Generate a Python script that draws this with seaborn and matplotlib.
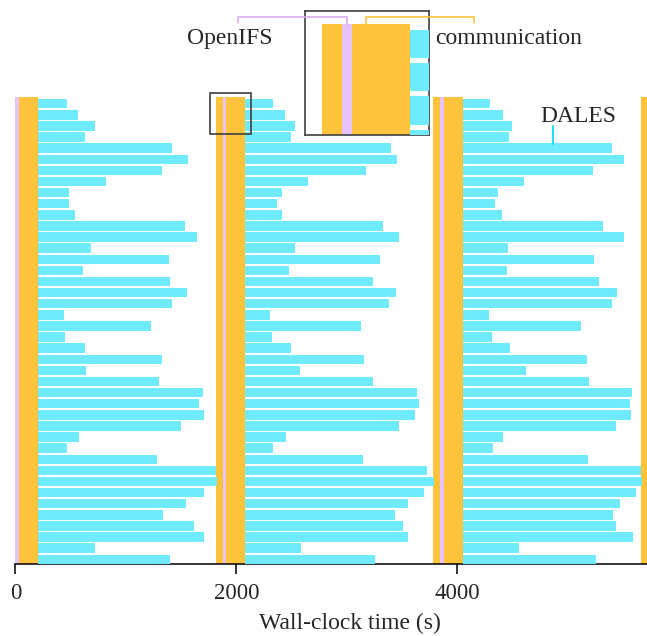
import numpy as np
import pandas as pd
import matplotlib
matplotlib.use("Agg")
import matplotlib.pyplot as plt
import seaborn as sns
from matplotlib.lines import Line2D
from matplotlib.patches import Rectangle

# ---------------- data ----------------
ranks = list(range(42))
dales_start = [208, 2080, 4051]
dales_end_1 = [462, 562, 716, 625, 1414, 1559, 1323, 816, 480, 480, 535, 1531, 1640, 680,
               1386, 607, 1396, 1550, 1414, 435, 1223, 444, 625, 1323, 634, 1296, 1695, 1658,
               1704, 1495, 571, 462, 1278, 1812, 1821, 1704, 1541, 1332, 1613, 1704, 716, 1396]
dales_end_2 = [2329, 2438, 2528, 2492, 3398, 3453, 3172, 2646, 2410, 2365, 2410, 3326, 3471, 2528,
               3299, 2474, 3235, 3444, 3380, 2302, 3126, 2320, 2492, 3154, 2574, 3235, 3634, 3652,
               3616, 3471, 2447, 2329, 3145, 3724, 3785, 3697, 3552, 3434, 3507, 3552, 2583, 3253]
dales_end_3 = [4295, 4413, 4495, 4468, 5401, 5510, 5229, 4603, 4368, 4341, 4404, 5319, 5510, 4459,
               5238, 4449, 5283, 5446, 5401, 4286, 5120, 4314, 4477, 5174, 4622, 5193, 5582, 5564,
               5573, 5437, 4413, 4323, 5183, 5664, 5673, 5618, 5473, 5410, 5437, 5591, 4558, 5256]
dales_ends = [dales_end_1, dales_end_2, dales_end_3]
openifs_start = [0, 1876, 3842]
openifs_end = [36, 1904, 3879]
comm_start = [36, 1814, 1904, 3779, 3879, 5664]
comm_end = [208, 1876, 2080, 3842, 4051, 5718]
xticks = [0, 2000, 4000]
xlabel = "Wall-clock time (s)"
labels = ["OpenIFS", "communication", "DALES"]

# ---------------- style ----------------
CYAN = "#70EBFD"
ORANGE = "#FFC43B"
PINK = "#E8C3FB"
PINK_LINE = "#D9AEF5"

sns.set_style("ticks")
plt.rcParams["font.family"] = ["Liberation Serif", "DejaVu Serif"]

W, H = 647, 636
fig = plt.figure(figsize=(W / 100, H / 100), dpi=100)

def fx(x):
    return x / W

def fy(y):
    return 1 - y / H

BAND_TOP, BAND_BOT = -0.6, 41.425
band_c = (BAND_TOP + BAND_BOT) / 2
band_h = BAND_BOT - BAND_TOP


def draw(ax):
    ax.barh(y=band_c, width=np.array(comm_end) - np.array(comm_start), left=comm_start,
            height=band_h, color=ORANGE, linewidth=0, zorder=1)
    ax.barh(y=band_c, width=np.array(openifs_end) - np.array(openifs_start), left=openifs_start,
            height=band_h, color=PINK, linewidth=0, zorder=1)
    for start, ends in zip(dales_start, dales_ends):
        df = pd.DataFrame({"rank": ranks, "dur": np.array(ends) - start})
        sns.barplot(data=df, x="dur", y="rank", orient="h", left=start, color=CYAN,
                    saturation=1, width=0.85, errorbar=None, linewidth=0, zorder=3, ax=ax)
    ax.set_ylabel("")
    ax.set_xlabel("")


# main axes
ax = fig.add_axes([fx(15.5), fy(564), 1 - fx(15.5), (564 - 97) / H])
draw(ax)
ax.set_xlim(0, 5718)
ax.set_ylim(BAND_BOT, BAND_TOP)
ax.set_yticks([])
ax.set_xticks(xticks)
ax.set_xticklabels([str(t) for t in xticks], fontsize=16.5)
ax.tick_params(axis="x", length=7, width=1.1, color="black", pad=6.5)
for s in ["left", "top", "right"]:
    ax.spines[s].set_visible(False)
ax.spines["bottom"].set_color("black")
ax.spines["bottom"].set_linewidth(1.1)
ax.set_xlabel(xlabel, fontsize=17)
ax.xaxis.set_label_coords((350 - 15.5) / (W - 15.5), -(623 - 564) / (564 - 97))
ax.xaxis.label.set_va("center")

# inset
ix0, ix1 = 1764, 2136
iy0, iy1 = -0.99, 2.73
axins = fig.add_axes([fx(305), fy(134.7), 123.7 / W, 123.7 / H])
draw(axins)
axins.set_xlim(ix0, ix1)
axins.set_ylim(iy1, iy0)
axins.set_xticks([])
axins.set_yticks([])
for s in axins.spines.values():
    s.set_visible(True)
    s.set_color("0.25")
    s.set_linewidth(1.2)

ax.add_patch(Rectangle((ix0, iy0), ix1 - ix0, iy1 - iy0, fill=False, edgecolor="0.25",
                       linewidth=1.2, clip_on=False, zorder=6))

# annotations (figure coordinates)
fig.add_artist(Line2D([fx(238), fx(238), fx(346.7), fx(346.7)], [fy(23), fy(17), fy(17), fy(25)],
                      color=PINK_LINE, linewidth=1.2))
fig.add_artist(Line2D([fx(365.7), fx(365.7), fx(474), fx(474)], [fy(25), fy(17), fy(17), fy(23)],
                      color=ORANGE, linewidth=1.2))
fig.add_artist(Line2D([fx(553), fx(553)], [fy(126), fy(144)], color="#22E0F5", linewidth=1.5))
fig.text(fx(230), fy(44), labels[0], ha="center", va="baseline", fontsize=17)
fig.text(fx(508.5), fy(44), labels[1], ha="center", va="baseline", fontsize=17)
fig.text(fx(578), fy(122.5), labels[2], ha="center", va="baseline", fontsize=17)

fig.savefig("out.png", dpi=100)
